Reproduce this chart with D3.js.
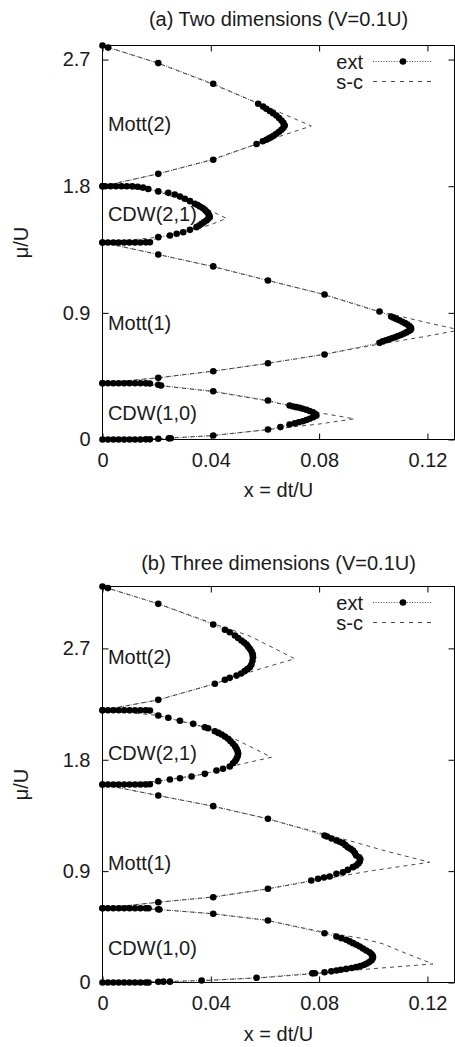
<!DOCTYPE html>
<html>
<head>
<meta charset="utf-8">
<script src="https://cdn.jsdelivr.net/npm/d3@7"></script>
<style>
  body { margin: 0; background: #fff; }
  svg { display: block; font-family: "Liberation Sans", Arial, Helvetica, sans-serif; }
</style>
</head>
<body>
<div id="chart"></div>
<script>
// axis ticks and ranges
var xTicks = [0, 0.04, 0.08, 0.12];
var yTicks = [0, 0.9, 1.8, 2.7];
var xMax = 0.13;
var yMaxA = 2.8, yMaxB = 3.2;

var titleA = "(a) Two dimensions (V=0.1U)";
var titleB = "(b) Three dimensions (V=0.1U)";
var xLabel = "x = dt/U";
var yLabel = "\u03bc/U";
var legendNames = ["ext", "s-c"];

var lobeLabels = ["CDW(1,0)", "Mott(1)", "CDW(2,1)", "Mott(2)"];
var labelMuA = [0.14, 0.78, 1.55, 2.19];
var labelMuB = [0.226, 0.913, 1.80, 2.57];

// ---- (a) 2D, extrapolated boundaries [x, mu]
var extA_cdw10 = [
  [0,0],[0.002,0],[0.004,0],[0.006,0],[0.008,0],[0.010,0],[0.012,0],[0.014,0],[0.016,0.001],[0.0175,0.001],
  [0.0206,0.005],[0.0245,0.008],[0.0252,0.009],[0.0409,0.028],[0.0611,0.071],[0.0657,0.088],
  [0.0691,0.107],[0.071,0.116],[0.0725,0.123],[0.074,0.13],[0.0753,0.139],[0.0765,0.147],[0.0778,0.158],[0.079,0.17],
  [0.0785,0.183],[0.0777,0.194],[0.0765,0.203],[0.0753,0.211],[0.074,0.218],[0.0728,0.225],[0.0716,0.23],[0.0704,0.235],[0.0691,0.242],
  [0.0611,0.277],[0.0409,0.343],[0.0216,0.384],[0.0206,0.389],
  [0.0175,0.398],[0.016,0.399],[0.014,0.4],[0.012,0.4],[0.010,0.4],[0.008,0.4],[0.006,0.4],[0.004,0.4],[0.002,0.4],[0,0.4]
];
var extA_mott1 = [
  [0,0.4],[0.0206,0.438],[0.0409,0.485],[0.0611,0.542],[0.082,0.604],[0.1023,0.687],
  [0.1035,0.697],[0.1047,0.705],[0.1058,0.712],[0.1069,0.72],[0.108,0.727],[0.1091,0.735],[0.1102,0.743],
  [0.1112,0.752],[0.1122,0.761],[0.1131,0.771],[0.1137,0.779],[0.114,0.787],
  [0.1138,0.797],[0.1133,0.807],[0.1126,0.817],[0.1117,0.827],[0.1107,0.837],[0.1096,0.847],[0.1085,0.857],[0.1075,0.866],[0.1066,0.874],
  [0.1023,0.91],[0.082,1.03],[0.0611,1.13],[0.0409,1.23],[0.0206,1.315],[0,1.4]
];
var extA_cdw21 = [
  [0,1.4],[0.002,1.4],[0.004,1.4],[0.006,1.4],[0.008,1.4],[0.010,1.4],[0.012,1.4],[0.014,1.4],[0.016,1.401],[0.0175,1.402],
  [0.0206,1.438],[0.0249,1.45],[0.0274,1.462],[0.0298,1.473],[0.0323,1.49],[0.0347,1.509],[0.0357,1.52],[0.0366,1.533],
  [0.0375,1.545],[0.0384,1.556],[0.039,1.568],[0.0396,1.58],
  [0.0394,1.594],[0.039,1.608],[0.0384,1.62],[0.0378,1.633],[0.037,1.645],[0.036,1.656],[0.0351,1.666],[0.0341,1.675],
  [0.0323,1.694],[0.0304,1.711],[0.0286,1.727],[0.0267,1.741],[0.0243,1.753],[0.0206,1.763],
  [0.0169,1.78],[0.015,1.79],[0.013,1.796],[0.011,1.8],[0.009,1.8],[0.007,1.8],[0.005,1.8],[0.003,1.8],[0.001,1.8],[0,1.8]
];
var extA_mott2 = [
  [0,1.8],[0.0206,1.888],[0.0409,1.988],[0.0569,2.10],[0.0592,2.12],[0.0605,2.13],[0.0615,2.14],[0.0624,2.149],
  [0.0633,2.16],[0.0642,2.173],[0.0652,2.187],[0.0661,2.201],[0.0668,2.216],[0.0673,2.232],
  [0.0668,2.25],[0.0661,2.267],[0.0652,2.285],[0.0642,2.303],[0.063,2.318],[0.0618,2.335],[0.0605,2.35],[0.0593,2.367],[0.0575,2.386],
  [0.0409,2.528],[0.0206,2.675],[0.0021,2.785],[0,2.8]
];

// ---- (a) 2D, strong-coupling boundaries
var scA_cdw10 = [[0,0],[0.02,0.006],[0.04,0.027],[0.06,0.068],[0.08,0.11],[0.093,0.147],[0.08,0.19],[0.07,0.235],[0.06,0.278],[0.04,0.343],[0.02,0.385],[0,0.4]];
var scA_mott1 = [[0,0.4],[0.02,0.438],[0.04,0.484],[0.06,0.538],[0.08,0.6],[0.1,0.67],[0.12,0.735],[0.132,0.778],[0.12,0.83],[0.1,0.92],[0.08,1.04],[0.06,1.135],[0.04,1.232],[0.02,1.317],[0,1.4]];
var scA_cdw21 = [[0,1.4],[0.02,1.436],[0.03,1.47],[0.04,1.527],[0.0458,1.571],[0.04,1.625],[0.03,1.7],[0.02,1.765],[0,1.8]];
var scA_mott2 = [[0,1.8],[0.02,1.886],[0.04,1.987],[0.06,2.12],[0.0771,2.228],[0.06,2.37],[0.04,2.53],[0.02,2.678],[0,2.8]];

// ---- (b) 3D, extrapolated boundaries
var extB_cdw10 = [
  [0,0],[0.002,0],[0.004,0],[0.006,0],[0.008,0],[0.010,0],[0.012,0],[0.014,0],[0.016,0],[0.017,0],
  [0.0206,0.006],[0.0225,0.007],[0.0249,0.007],[0.0366,0.016],[0.0569,0.038],[0.0775,0.074],[0.0784,0.075],[0.082,0.083],
  [0.0845,0.09],[0.0864,0.097],[0.088,0.103],[0.09,0.11],[0.092,0.117],[0.0937,0.124],[0.0952,0.132],[0.0965,0.141],
  [0.0974,0.151],[0.0984,0.163],[0.0993,0.178],[0.0997,0.192],[0.0999,0.205],
  [0.0997,0.218],[0.0993,0.23],[0.0986,0.245],[0.0974,0.259],[0.0962,0.275],[0.095,0.291],[0.0938,0.305],[0.0925,0.318],
  [0.0913,0.332],[0.09,0.345],[0.0882,0.358],[0.0864,0.372],[0.082,0.398],
  [0.0611,0.501],[0.0409,0.555],[0.021,0.59],[0.0206,0.592],
  [0.017,0.6],[0.016,0.6],[0.014,0.6],[0.012,0.6],[0.010,0.6],[0.008,0.6],[0.006,0.6],[0.004,0.6],[0.002,0.6],[0,0.6]
];
var extB_mott1 = [
  [0,0.6],[0.0206,0.649],[0.0409,0.689],[0.0611,0.757],[0.0771,0.824],[0.0796,0.838],[0.0818,0.848],[0.0839,0.857],
  [0.0864,0.878],[0.0888,0.891],[0.0906,0.91],[0.0925,0.932],[0.0937,0.945],[0.0945,0.962],[0.095,0.978],[0.0952,0.995],
  [0.0948,1.012],[0.0937,1.026],[0.0932,1.047],[0.0925,1.067],[0.0916,1.08],[0.0906,1.093],[0.0897,1.11],[0.0888,1.126],
  [0.0876,1.137],[0.0864,1.147],[0.0846,1.164],[0.0829,1.18],[0.082,1.188],
  [0.0611,1.323],[0.0409,1.425],[0.0206,1.511],[0,1.6]
];
var extB_cdw21 = [
  [0,1.6],[0.002,1.6],[0.004,1.6],[0.006,1.6],[0.008,1.6],[0.010,1.6],[0.012,1.6],[0.014,1.6],[0.016,1.6],[0.0175,1.602],
  [0.0206,1.627],[0.0249,1.64],[0.0286,1.65],[0.0329,1.665],[0.0378,1.686],[0.0421,1.713],[0.0445,1.727],[0.047,1.745],
  [0.0482,1.772],[0.049,1.79],[0.0495,1.808],[0.0499,1.828],[0.0501,1.848],
  [0.0499,1.868],[0.0495,1.888],[0.049,1.908],[0.0482,1.929],[0.0473,1.95],[0.0464,1.969],[0.0452,1.987],[0.044,2.004],
  [0.0428,2.017],[0.0415,2.03],[0.039,2.055],[0.0378,2.063],[0.0335,2.09],[0.0286,2.115],[0.0243,2.139],[0.0206,2.158],
  [0.0175,2.198],[0.016,2.2],[0.014,2.2],[0.012,2.2],[0.010,2.2],[0.008,2.2],[0.006,2.2],[0.004,2.2],[0.002,2.2],[0,2.2]
];
var extB_mott2 = [
  [0,2.2],[0.0206,2.284],[0.0415,2.414],[0.0452,2.446],[0.047,2.462],[0.0495,2.48],[0.0512,2.497],[0.0525,2.516],
  [0.0535,2.532],[0.0544,2.548],[0.055,2.57],[0.0554,2.6],[0.0556,2.629],
  [0.0555,2.645],[0.0554,2.656],[0.055,2.676],[0.0544,2.696],[0.0538,2.713],[0.0532,2.731],[0.0523,2.748],[0.0513,2.764],
  [0.0501,2.784],[0.0489,2.804],[0.047,2.83],[0.0452,2.85],[0.0409,2.893],[0.0206,3.06],[0.002,3.187],[0,3.2]
];

// ---- (b) 3D, strong-coupling boundaries
var scB_cdw10 = [[0,0],[0.02,0.006],[0.04,0.018],[0.06,0.04],[0.08,0.075],[0.1,0.112],[0.122,0.15],[0.111,0.245],[0.1035,0.313],[0.095,0.36],[0.082,0.405],[0.06,0.505],[0.04,0.557],[0.02,0.591],[0,0.6]];
var scB_mott1 = [[0,0.6],[0.02,0.647],[0.04,0.69],[0.06,0.753],[0.08,0.83],[0.1,0.905],[0.1208,0.972],[0.105,1.06],[0.091,1.147],[0.08,1.21],[0.06,1.328],[0.04,1.428],[0.02,1.513],[0,1.6]];
var scB_cdw21 = [[0,1.6],[0.02,1.626],[0.0378,1.685],[0.045,1.735],[0.0624,1.82],[0.05,1.956],[0.0378,2.063],[0.02,2.16],[0,2.2]];
var scB_mott2 = [[0,2.2],[0.0206,2.284],[0.0415,2.414],[0.056,2.52],[0.071,2.616],[0.0544,2.8],[0.0409,2.9],[0.0206,3.06],[0,3.2]];

var W = 455, H = 1047;
var left = 102.5, right = 454.5;
var fontSize = 20;
var ink = "#1a1a1a";

var panels = [
  { id: "a", top: 45.5, bottom: 439.5, yMax: yMaxA, title: titleA, titleY: 26, xlabY: 497,
    ext: [extA_cdw10, extA_mott1, extA_cdw21, extA_mott2],
    sc: [scA_cdw10, scA_mott1, scA_cdw21, scA_mott2], labelMu: labelMuA },
  { id: "b", top: 586.5, bottom: 982.5, yMax: yMaxB, title: titleB, titleY: 570, xlabY: 1041,
    ext: [extB_cdw10, extB_mott1, extB_cdw21, extB_mott2],
    sc: [scB_cdw10, scB_mott1, scB_cdw21, scB_mott2], labelMu: labelMuB }
];

var svg = d3.select("#chart").append("svg")
    .attr("width", W)
    .attr("height", H);

function fmtX(d) { return d === 0 ? "0" : d3.format(".2f")(d); }
function fmtY(d) { return d === 0 ? "0" : d3.format(".1f")(d); }

function styleAxis(a) {
  a.select(".domain").remove();
  a.attr("font-size", fontSize).attr("font-family", null);
  a.selectAll("line").attr("stroke", "#000");
  a.selectAll("text").attr("fill", ink);
}

panels.forEach(function(p) {
  var x = d3.scaleLinear().domain([0, xMax]).range([left, right]);
  var y = d3.scaleLinear().domain([0, p.yMax]).range([p.bottom, p.top]);
  var line = d3.line().x(d => x(d[0])).y(d => y(d[1]));
  var g = svg.append("g");

  svg.append("clipPath").attr("id", "clip-" + p.id)
    .append("rect")
      .attr("x", left).attr("y", p.top)
      .attr("width", right - left).attr("height", p.bottom - p.top);

  // axes with inward ticks on all four sides
  g.append("g")
    .attr("transform", "translate(0," + p.bottom + ")")
    .call(d3.axisBottom(x).tickValues(xTicks).tickSizeInner(-6).tickSizeOuter(0).tickPadding(13).tickFormat(fmtX))
    .call(styleAxis);
  g.append("g")
    .attr("transform", "translate(0," + p.top + ")")
    .call(d3.axisTop(x).tickValues(xTicks).tickSizeInner(-6).tickSizeOuter(0).tickFormat(""))
    .call(styleAxis);
  g.append("g")
    .attr("transform", "translate(" + left + ",0)")
    .call(d3.axisLeft(y).tickValues(yTicks).tickSizeInner(-6).tickSizeOuter(0).tickPadding(12).tickFormat(fmtY))
    .call(styleAxis);
  g.append("g")
    .attr("transform", "translate(" + right + ",0)")
    .call(d3.axisRight(y).tickValues(yTicks).tickSizeInner(-6).tickSizeOuter(0).tickFormat(""))
    .call(styleAxis);

  // s-c dashed
  g.append("g").attr("clip-path", "url(#clip-" + p.id + ")")
    .selectAll("path").data(p.sc).join("path")
      .attr("d", line)
      .attr("fill", "none")
      .attr("stroke", "#333")
      .attr("stroke-width", 0.9)
      .attr("stroke-dasharray", "4,4");

  // ext dotted
  g.append("g").attr("clip-path", "url(#clip-" + p.id + ")")
    .selectAll("path").data(p.ext).join("path")
      .attr("d", line)
      .attr("fill", "none")
      .attr("stroke", "#333")
      .attr("stroke-width", 0.9)
      .attr("stroke-dasharray", "1,1.6");

  g.append("g")
    .selectAll("circle").data(p.ext.flat()).join("circle")
      .attr("cx", d => x(d[0]))
      .attr("cy", d => y(d[1]))
      .attr("r", 3.3)
      .attr("fill", "#000");

  // frame
  g.append("rect")
    .attr("x", left).attr("y", p.top)
    .attr("width", right - left).attr("height", p.bottom - p.top)
    .attr("fill", "none").attr("stroke", "#000").attr("stroke-width", 1);

  // lobe labels
  g.append("g")
    .selectAll("text").data(lobeLabels).join("text")
      .attr("x", x(0.002))
      .attr("y", (d, i) => y(p.labelMu[i]))
      .attr("font-size", fontSize)
      .attr("fill", ink)
      .text(d => d);

  // legend
  var lg = g.append("g");
  var rows = [p.top + 16, p.top + 36];
  lg.selectAll("text").data(legendNames).join("text")
    .attr("x", 363)
    .attr("y", (d, i) => rows[i] + 7.5)
    .attr("text-anchor", "end")
    .attr("font-size", fontSize)
    .attr("fill", ink)
    .text(d => d);
  lg.append("line")
    .attr("x1", 373).attr("x2", 432).attr("y1", rows[0]).attr("y2", rows[0])
    .attr("stroke", "#333").attr("stroke-width", 0.9).attr("stroke-dasharray", "1,1.6");
  lg.append("circle").attr("cx", 403).attr("cy", rows[0]).attr("r", 3.3).attr("fill", "#000");
  lg.append("line")
    .attr("x1", 373).attr("x2", 432).attr("y1", rows[1]).attr("y2", rows[1])
    .attr("stroke", "#333").attr("stroke-width", 0.9).attr("stroke-dasharray", "4,5");

  // titles
  g.append("text")
    .attr("x", (left + right) / 2).attr("y", p.titleY)
    .attr("text-anchor", "middle").attr("font-size", fontSize).attr("fill", ink)
    .text(p.title);
  g.append("text")
    .attr("x", (left + right) / 2).attr("y", p.xlabY)
    .attr("text-anchor", "middle").attr("font-size", fontSize).attr("fill", ink)
    .text(xLabel);
  g.append("text")
    .attr("transform", "translate(28," + ((p.top + p.bottom) / 2) + ") rotate(-90)")
    .attr("text-anchor", "middle").attr("font-size", fontSize).attr("fill", ink)
    .text(yLabel);
});
</script>
</body>
</html>
